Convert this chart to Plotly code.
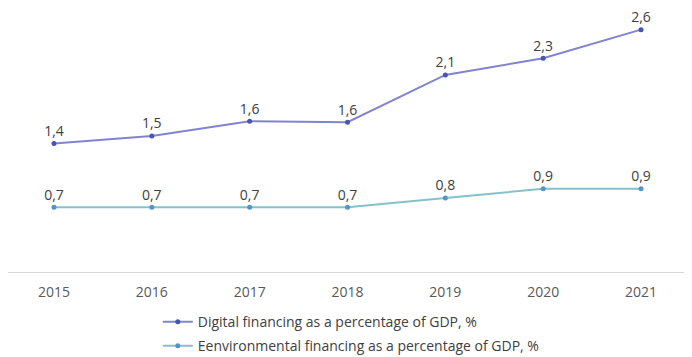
import plotly.graph_objects as go

years = ["2015", "2016", "2017", "2018", "2019", "2020", "2021"]
digital = [1.39, 1.47, 1.63, 1.62, 2.13, 2.31, 2.62]
digital_labels = ["1,4", "1,5", "1,6", "1,6", "2,1", "2,3", "2,6"]
environmental = [0.70, 0.70, 0.70, 0.70, 0.80, 0.90, 0.90]
environmental_labels = ["0,7", "0,7", "0,7", "0,7", "0,8", "0,9", "0,9"]

font_family = "Open Sans, Liberation Sans, sans-serif"

fig = go.Figure()
fig.add_trace(go.Scatter(
    x=years, y=digital, mode="lines+markers+text",
    name="Digital financing as a percentage of GDP, %",
    text=digital_labels, textposition="top center",
    textfont=dict(size=14, color="#404040", family=font_family),
    line=dict(color="#8084d0", width=2),
    marker=dict(color="#4557b0", size=5),
    cliponaxis=False, legendgroup="a",
))
fig.add_trace(go.Scatter(
    x=years, y=environmental, mode="lines+markers+text",
    name="Eenvironmental financing as a percentage of GDP, %",
    text=environmental_labels, textposition="top center",
    textfont=dict(size=14, color="#404040", family=font_family),
    line=dict(color="#86c0cc", width=2),
    marker=dict(color="#4f96cc", size=5),
    cliponaxis=False, legendgroup="b",
))

fig.update_layout(
    width=684, height=349,
    margin=dict(l=0, r=0, t=0, b=85, autoexpand=False),
    paper_bgcolor="white", plot_bgcolor="white",
    font=dict(family=font_family, size=14, color="#595959"),
    xaxis=dict(type="category", range=[-0.47, 6.521], showgrid=False,
               showline=True, linecolor="#d9d9d9", linewidth=1,
               ticks="", ticklabelstandoff=7,
               tickfont=dict(size=14, color="#595959"),
               automargin=False, fixedrange=True),
    yaxis=dict(range=[0, 2.854], visible=False, automargin=False, fixedrange=True),
    showlegend=True,
    legend=dict(orientation="v", x=0.219, xanchor="left", y=-0.129, yanchor="top",
                font=dict(size=14, color="#404040"),
                traceorder="grouped", tracegroupgap=3,
                itemwidth=30, bgcolor="rgba(0,0,0,0)"),
)

fig.write_html("out.html")
